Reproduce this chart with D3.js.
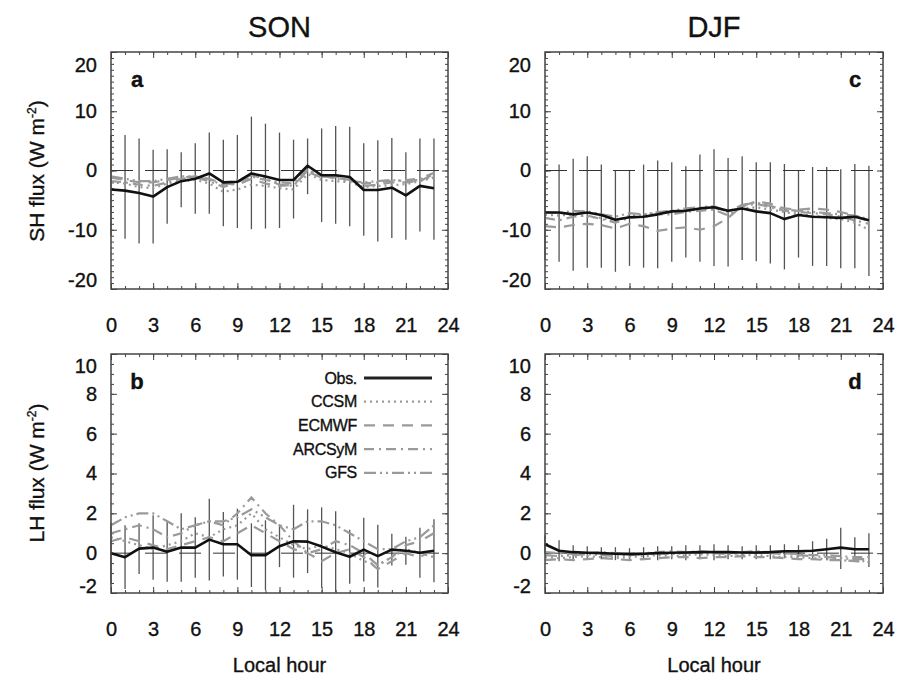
<!DOCTYPE html>
<html><head><meta charset="utf-8">
<script src="https://cdn.jsdelivr.net/npm/d3@7"></script>
<style>
body{margin:0;background:#fff;}
svg{display:block;font-family:"Liberation Sans",Arial,sans-serif;}
svg text{stroke:#111;stroke-width:0.35px;}
</style></head>
<body><svg id="chart" width="901" height="682"></svg>
<script>
// ---------------- DATA ----------------
const hours = [0,1,2,3,4,5,6,7,8,9,10,11,12,13,14,15,16,17,18,19,20,21,22,23];
const xTicks = [0,3,6,9,12,15,18,21,24];
const shTicks = [-20,-10,0,10,20];
const lhTicks = [-2,0,2,4,6,8,10];
const seasons = ["SON","DJF"];
const seriesNames = ["Obs.","CCSM","ECMWF","ARCSyM","GFS"];

// SON sensible heat (panel a)
const sonShObs   = [-3.2,-3.4,-3.8,-4.4,-2.8,-1.8,-1.4,-0.5,-2.0,-1.9,-0.5,-1.0,-1.6,-1.6,0.8,-0.8,-0.8,-1.1,-3.3,-3.3,-2.9,-4.2,-2.6,-3.0];
const sonShHigh  = [6.0,6.0,5.4,3.5,3.6,3.1,4.6,6.4,5.2,6.0,9.1,7.9,6.4,5.2,5.4,7.1,7.5,7.4,4.6,5.1,5.5,3.1,5.4,5.4];
const sonShLow   = [-11.0,-11.5,-12.3,-12.3,-9.0,-6.2,-7.3,-7.3,-9.4,-9.7,-9.9,-9.8,-9.7,-8.1,-4.0,-8.7,-9.0,-9.4,-11.0,-12.0,-11.4,-11.7,-10.3,-11.7];
const sonShCCSM  = [-2.0,-2.2,-2.8,-3.0,-2.2,-1.8,-1.6,-2.2,-3.6,-3.2,-2.4,-2.6,-3.0,-3.2,-0.6,-1.6,-1.8,-2.0,-2.8,-2.6,-2.5,-2.3,-1.8,-1.2];
const sonShECMWF = [-1.2,-1.6,-2.0,-2.0,-1.6,-1.2,-1.0,-1.4,-2.2,-2.4,-1.4,-2.2,-2.6,-2.4,-0.2,-1.2,-1.0,-1.4,-2.6,-2.4,-2.0,-2.0,-1.8,-0.6];
const sonShARCSyM= [-1.8,-2.0,-2.4,-2.6,-2.0,-1.4,-1.2,-1.8,-2.8,-2.0,-1.0,-1.6,-2.0,-2.2,0.2,-1.0,-1.2,-1.6,-2.2,-2.0,-1.8,-1.6,-1.4,-0.4];
const sonShGFS   = [-1.0,-1.4,-1.8,-1.8,-1.4,-1.0,-1.0,-1.6,-2.4,-1.6,-0.8,-1.4,-2.4,-2.6,0.0,-0.8,-1.4,-1.8,-2.0,-1.8,-1.6,-1.8,-1.6,-1.0];

// DJF sensible heat (panel c)
const djfShObs   = [-7.1,-7.1,-7.4,-7.1,-7.5,-8.3,-7.9,-7.8,-7.4,-6.9,-6.8,-6.4,-6.2,-6.8,-6.4,-6.9,-7.2,-8.2,-7.5,-7.8,-7.9,-8.0,-7.8,-8.4];
const djfShHigh  = [1.0,1.0,2.0,2.4,1.0,0.05,0.05,1.0,1.7,1.4,0.7,2.7,3.6,2.1,2.4,1.4,1.4,1.1,0.0,0.6,0.6,0.2,1.1,0.8];
const djfShLow   = [-15.0,-15.4,-16.9,-16.4,-16.4,-17.1,-16.1,-16.4,-16.5,-15.4,-14.7,-15.4,-16.1,-16.2,-15.1,-15.3,-15.7,-16.7,-14.7,-16.1,-16.1,-16.5,-16.5,-17.8];
const djfShCCSM  = [-7.5,-7.6,-7.4,-7.8,-8.0,-8.6,-7.6,-7.4,-7.2,-7.0,-6.8,-6.6,-6.4,-6.8,-6.4,-6.2,-6.6,-7.0,-7.4,-7.6,-8.0,-8.2,-8.8,-10.0];
const djfShECMWF = [-9.4,-9.6,-9.2,-9.0,-9.2,-9.8,-9.0,-9.4,-10.2,-9.8,-9.6,-10.0,-9.4,-8.0,-6.0,-5.2,-5.6,-6.4,-6.6,-6.4,-6.6,-7.0,-7.6,-8.6];
const djfShARCSyM= [-8.0,-8.4,-7.8,-7.6,-8.2,-8.8,-8.0,-7.8,-7.4,-7.4,-7.0,-6.8,-6.6,-7.6,-6.0,-5.6,-6.2,-6.8,-7.0,-7.2,-7.4,-7.8,-8.4,-9.0];
const djfShGFS   = [-7.0,-7.2,-6.8,-6.9,-7.4,-7.8,-7.2,-7.4,-7.0,-6.8,-6.4,-6.2,-6.0,-7.0,-5.8,-5.4,-6.0,-6.6,-6.8,-7.0,-7.2,-7.4,-7.6,-8.2];

// SON latent heat (panel b)
const sonLhObs   = [0.0,-0.2,0.23,0.28,0.07,0.28,0.28,0.68,0.45,0.45,-0.1,-0.1,0.35,0.6,0.58,0.33,0.05,-0.18,0.18,-0.15,0.18,0.12,0.02,0.12];
const sonLhHigh  = [1.5,1.4,1.5,1.9,1.57,2.0,1.8,2.73,2.07,2.23,1.5,1.65,1.4,2.43,2.2,2.3,2.1,1.18,1.78,1.43,0.98,0.82,1.28,1.7];
const sonLhLow   = [-1.5,-1.8,-1.04,-1.34,-1.43,-1.44,-1.24,-1.37,-1.17,-1.33,-1.7,-1.85,-0.7,-1.23,-1.0,-1.74,-1.96,-1.54,-1.42,-1.73,-0.62,-0.58,-1.24,-1.46];
const sonLhCCSM  = [0.8,0.6,0.4,0.2,0.4,0.6,1.0,0.8,1.2,1.4,2.0,1.2,0.8,0.4,0.2,0.4,0.2,0.0,-0.4,-0.6,-0.2,0.2,0.0,-0.2];
const sonLhECMWF = [0.6,0.8,0.6,0.4,0.2,0.4,0.6,0.8,0.6,1.0,1.4,1.0,0.6,0.2,0.0,-0.4,0.0,0.2,-0.2,-0.8,-0.4,0.0,-0.2,0.2];
const sonLhARCSyM= [1.0,1.2,1.4,1.2,0.8,1.0,1.4,1.6,1.4,2.0,2.8,2.0,1.4,0.6,0.0,0.2,0.6,0.4,0.0,-0.6,-0.2,0.4,0.6,1.0];
const sonLhGFS   = [1.4,1.8,2.0,2.0,1.6,1.2,1.4,1.6,1.6,1.8,2.2,1.8,1.4,1.2,1.6,1.6,1.4,1.0,0.6,0.2,0.2,0.6,0.8,1.4];

// DJF latent heat (panel d)
const djfLhObs   = [0.45,0.12,0.05,0.02,0.0,-0.03,-0.05,-0.03,0.0,0.02,0.03,0.05,0.05,0.05,0.03,0.03,0.05,0.1,0.1,0.12,0.2,0.28,0.2,0.2];
const djfLhHigh  = [0.9,0.65,0.4,0.35,0.3,0.3,0.25,0.3,0.35,0.35,0.4,0.4,0.45,0.4,0.35,0.4,0.4,0.45,0.4,0.6,0.73,1.28,0.8,1.0];
const djfLhLow   = [0.0,-0.4,-0.3,-0.3,-0.3,-0.35,-0.35,-0.35,-0.35,-0.3,-0.35,-0.3,-0.35,-0.3,-0.3,-0.3,-0.3,-0.25,-0.2,-0.35,-0.35,-0.8,-0.43,-0.7];
const djfLhCCSM  = [-0.2,-0.25,-0.2,-0.15,-0.2,-0.25,-0.2,-0.15,-0.1,-0.15,-0.1,-0.05,-0.1,-0.15,-0.1,-0.1,-0.15,-0.2,-0.2,-0.25,-0.3,-0.35,-0.4,-0.4];
const djfLhECMWF = [-0.35,-0.3,-0.35,-0.3,-0.25,-0.3,-0.35,-0.3,-0.25,-0.2,-0.2,-0.25,-0.2,-0.2,-0.15,-0.2,-0.2,-0.25,-0.3,-0.3,-0.35,-0.35,-0.4,-0.45];
const djfLhARCSyM= [0.05,0.0,-0.05,0.0,0.05,0.0,-0.05,0.0,0.05,0.1,0.05,0.1,0.05,0.0,0.05,0.1,0.05,0.0,-0.05,-0.1,-0.1,-0.15,-0.2,-0.2];
const djfLhGFS   = [-0.1,-0.15,-0.1,-0.05,-0.1,-0.15,-0.1,-0.05,0.0,-0.05,0.0,0.05,0.0,-0.05,0.0,0.05,0.0,-0.05,-0.1,-0.15,-0.2,-0.25,-0.3,-0.3];

// ---------------- STYLE / LAYOUT ----------------
const styles = {
  "Obs.":   {color:"#111", width:2.6, dash:null},
  "CCSM":   {color:"#9a9a9a", width:2.2, dash:"2,4"},
  "ECMWF":  {color:"#9a9a9a", width:2.2, dash:"11,8"},
  "ARCSyM": {color:"#9a9a9a", width:2.2, dash:"10,5,2,5"},
  "GFS":    {color:"#9a9a9a", width:2.2, dash:"12,4,2,4,2,4"}
};

const panels = [
  {letter:"a", col:0, row:0, x0:111, x1:448, y0:52, y1:289, dom:[-20,20], ticks:shTicks, minor:1, nudgeTop:13, nudgeBot:-9,
   obs:sonShObs, hi:sonShHigh, lo:sonShLow, models:[sonShCCSM,sonShECMWF,sonShARCSyM,sonShGFS]},
  {letter:"c", col:1, row:0, x0:545, x1:883, y0:52, y1:289, dom:[-20,20], ticks:shTicks, minor:1, nudgeTop:13, nudgeBot:-9,
   obs:djfShObs, hi:djfShHigh, lo:djfShLow, models:[djfShCCSM,djfShECMWF,djfShARCSyM,djfShGFS]},
  {letter:"b", col:0, row:1, x0:111, x1:448, y0:354, y1:593, dom:[-2,10], ticks:lhTicks, minor:0.5, nudgeTop:12, nudgeBot:-7,
   obs:sonLhObs, hi:sonLhHigh, lo:sonLhLow, models:[sonLhCCSM,sonLhECMWF,sonLhARCSyM,sonLhGFS]},
  {letter:"d", col:1, row:1, x0:545, x1:883, y0:354, y1:593, dom:[-2,10], ticks:lhTicks, minor:0.5, nudgeTop:12, nudgeBot:-7,
   obs:djfLhObs, hi:djfLhHigh, lo:djfLhLow, models:[djfLhCCSM,djfLhECMWF,djfLhARCSyM,djfLhGFS]}
];

const svg = d3.select("#chart");
const frameColor = "#444";
const fmt = d => String(d);

panels.forEach(p => {
  const x = d3.scaleLinear().domain([0,24]).range([p.x0,p.x1]);
  const y = d3.scaleLinear().domain(p.dom).range([p.y1,p.y0]);
  const g = svg.append("g");

  const minorX = d3.range(0,25,1);
  const minorY = d3.range(p.dom[0], p.dom[1]+1e-9, p.minor);
  const axStyle = sel => { sel.select(".domain").remove(); sel.selectAll("line").attr("stroke",frameColor).attr("stroke-width",1); };

  g.append("g").attr("transform",`translate(0,${p.y1})`)
    .call(d3.axisBottom(x).tickValues(minorX).tickSize(-3).tickFormat("")).call(axStyle);
  g.append("g").attr("transform",`translate(0,${p.y0})`)
    .call(d3.axisTop(x).tickValues(minorX).tickSize(-3).tickFormat("")).call(axStyle);
  g.append("g").attr("transform",`translate(${p.x0},0)`)
    .call(d3.axisLeft(y).tickValues(minorY).tickSize(-3).tickFormat("")).call(axStyle);
  g.append("g").attr("transform",`translate(${p.x1},0)`)
    .call(d3.axisRight(y).tickValues(minorY).tickSize(-3).tickFormat("")).call(axStyle);

  const bx = g.append("g").attr("transform",`translate(0,${p.y1})`)
    .call(d3.axisBottom(x).tickValues(xTicks).tickSize(-6).tickPadding(29).tickFormat(fmt)).call(axStyle);
  bx.selectAll("text").attr("font-size",20).attr("fill","#111").attr("font-family","Liberation Sans, Arial, sans-serif");
  g.append("g").attr("transform",`translate(0,${p.y0})`)
    .call(d3.axisTop(x).tickValues(xTicks).tickSize(-6).tickFormat("")).call(axStyle);
  const ly = g.append("g").attr("transform",`translate(${p.x0},0)`)
    .call(d3.axisLeft(y).tickValues(p.ticks).tickSize(-6).tickPadding(14).tickFormat(fmt)).call(axStyle);
  ly.selectAll("text").attr("font-size",20).attr("fill","#111").attr("font-family","Liberation Sans, Arial, sans-serif");
  const tMax = p.ticks[p.ticks.length-1], tMin = p.ticks[0];
  ly.selectAll(".tick text").filter(d => d === tMax).attr("y", p.nudgeTop);
  ly.selectAll(".tick text").filter(d => d === tMin).attr("y", p.nudgeBot);
  g.append("g").attr("transform",`translate(${p.x1},0)`)
    .call(d3.axisRight(y).tickValues(p.ticks).tickSize(-6).tickFormat("")).call(axStyle);

  // error bars
  g.append("g").selectAll("line").data(hours).join("line")
    .attr("x1",h=>x(h)).attr("x2",h=>x(h))
    .attr("y1",(h,i)=>y(p.hi[i])).attr("y2",(h,i)=>y(p.lo[i]))
    .attr("stroke","#555").attr("stroke-width",1.3);

  // zero line
  g.append("line").attr("x1",p.x0).attr("x2",p.x1).attr("y1",y(0)).attr("y2",y(0))
    .attr("stroke","#333").attr("stroke-width",1).attr("stroke-dasharray","22,12");

  const line = d3.line().x((d,i)=>x(hours[i])).y(d=>y(d));
  p.models.forEach((m,k) => {
    const s = styles[seriesNames[k+1]];
    g.append("path").attr("d",line(m)).attr("fill","none")
      .attr("stroke",s.color).attr("stroke-width",s.width).attr("stroke-dasharray",s.dash);
  });
  const so = styles["Obs."];
  g.append("path").attr("d",line(p.obs)).attr("fill","none")
    .attr("stroke",so.color).attr("stroke-width",so.width).attr("stroke-linejoin","round");

  g.append("rect").attr("x",p.x0).attr("y",p.y0).attr("width",p.x1-p.x0).attr("height",p.y1-p.y0)
    .attr("fill","none").attr("stroke",frameColor).attr("stroke-width",1.5);

  const left = p.col===0;
  g.append("text").attr("x", left ? p.x0+26 : p.x1-28).attr("y", p.y0+35)
    .attr("text-anchor","middle").attr("font-weight","bold").attr("font-size",22).attr("fill","#111").text(p.letter);

  if (p.letter==="b") {
    const lg = g.append("g");
    seriesNames.forEach((n,i) => {
      const yy = 378 + i*23.7;
      const s = styles[n];
      lg.append("text").attr("x",357).attr("y",yy).attr("dy","0.35em").attr("text-anchor","end")
        .attr("font-size",16).attr("letter-spacing","-0.3").attr("fill","#111").text(n);
      lg.append("line").attr("x1",364).attr("x2",432).attr("y1",yy).attr("y2",yy)
        .attr("stroke", n==="Obs." ? "#222" : s.color).attr("stroke-width", n==="Obs." ? 3 : 2.2)
        .attr("stroke-dasharray",s.dash);
    });
  }
});

seasons.forEach((s,i) => {
  const p = panels[i];
  svg.append("text").attr("x",(p.x0+p.x1)/2).attr("y",37).attr("text-anchor","middle")
    .attr("font-size",29).attr("fill","#111").text(s);
  svg.append("text").attr("x",(p.x0+p.x1)/2).attr("y",672).attr("text-anchor","middle")
    .attr("font-size",20).attr("fill","#111").text("Local hour");
});

function yTitle(label, cy) {
  const t = svg.append("text").attr("transform",`translate(44,${cy}) rotate(-90)`)
    .attr("text-anchor","middle").attr("font-size",21).attr("fill","#111");
  t.append("tspan").text(label + " flux (W m");
  t.append("tspan").attr("font-size",12).attr("dy",-8).text("-2");
  t.append("tspan").attr("dy",8).text(")");
}
yTitle("SH",171);
yTitle("LH",473);
</script>
</body></html>
